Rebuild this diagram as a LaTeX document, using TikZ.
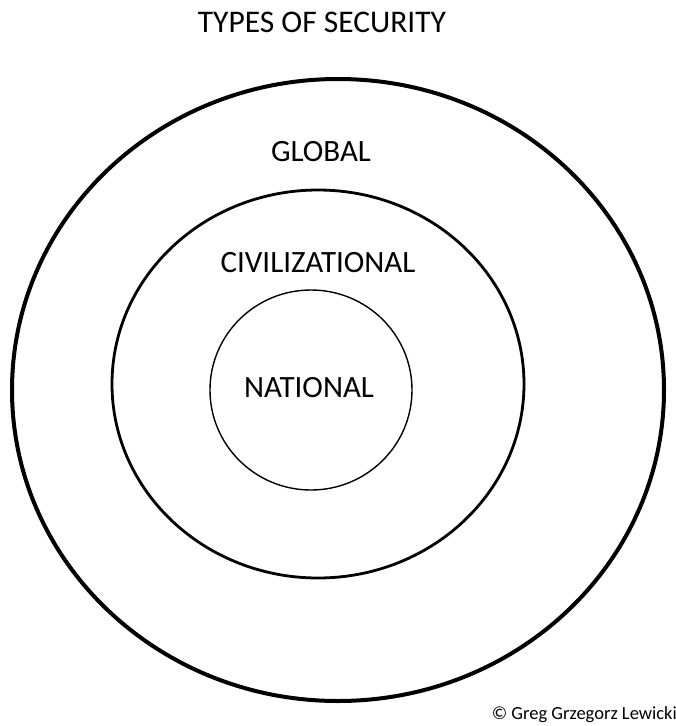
\documentclass[tikz,border=0pt]{standalone}
\usepackage{fontspec}
\setmainfont{Carlito}
\begin{document}
\begin{tikzpicture}[x=1pt,y=-1pt,
  ring/.style={draw=black},
  label/.style={font=\fontsize{31}{37}\selectfont, inner sep=0pt}]
  \useasboundingbox (0,0) rectangle (676,726);
  % concentric rings
  \draw[ring, line width=4pt] (338,390) ellipse [x radius=326, y radius=311];
  \draw[ring, line width=2.8pt] (318,384) ellipse [x radius=206, y radius=194];
  \draw[ring, line width=1.4pt] (311,390) ellipse [x radius=101, y radius=100];
  % labels
  \node[label, font=\fontsize{31.5}{38}\selectfont] (title) at (322,22) {TYPES OF SECURITY};
  \node[label] (global) at (321,152) {GLOBAL};
  \node[label] (civ) at (318,263) {CIVILIZATIONAL};
  \node[label] (nat) at (309,388) {NATIONAL};
  \node[font=\fontsize{18.5}{22}\selectfont, inner sep=0pt, anchor=base east] (copy) at (677,719) {© Greg Grzegorz Lewicki};
\end{tikzpicture}
\end{document}
